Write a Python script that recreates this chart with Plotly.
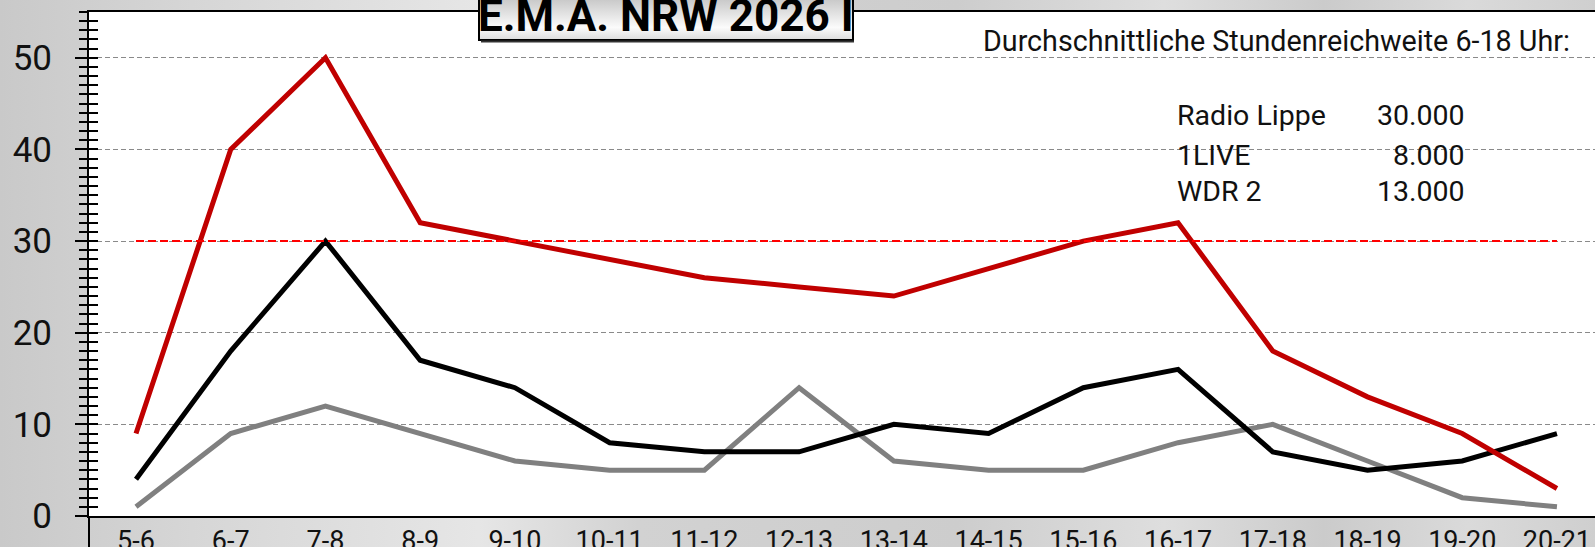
import base64
import plotly.graph_objects as go

# ---------------- data ----------------
hours = ["5-6", "6-7", "7-8", "8-9", "9-10", "10-11", "11-12", "12-13",
         "13-14", "14-15", "15-16", "16-17", "17-18", "18-19", "19-20", "20-21"]
radio_lippe = [9, 40, 50, 32, 30, 28, 26, 25, 24, 27, 30, 32, 18, 13, 9, 3]
wdr2 = [4, 18, 30, 17, 14, 8, 7, 7, 10, 9, 14, 16, 7, 5, 6, 9]
einslive = [1, 9, 12, 9, 6, 5, 5, 14, 6, 5, 5, 8, 10, 6, 2, 1]

stations = ["Radio Lippe", "1LIVE", "WDR 2"]
avg_reach = [30000, 8000, 13000]
avg_title = "Durchschnittliche Stundenreichweite 6-18 Uhr:"
chart_title = "E.M.A. NRW 2026 I"
y_ticks = [0, 10, 20, 30, 40, 50]

# ---------------- style ----------------
FONT = "Roboto, Liberation Sans, sans-serif"
W, H = 1595, 547
ML, MR, MT, MB = 89, 0, 12, 31
PW, PH = W - ML - MR, H - MT - MB


def px(xp):
    return (xp - ML) / PW


def py(yp):
    return (H - MB - yp) / PH


def svg_uri(svg):
    return "data:image/svg+xml;base64," + base64.b64encode(svg.encode()).decode()


bg_svg = (
    "<svg xmlns='http://www.w3.org/2000/svg' width='1595' height='547'>"
    "<defs><linearGradient id='g' x1='0' y1='0' x2='1' y2='0'>"
    "<stop offset='0' stop-color='#c9c9c9'/>"
    "<stop offset='0.12' stop-color='#d6d6d6'/>"
    "<stop offset='0.3' stop-color='#e6e6e6'/>"
    "<stop offset='0.4' stop-color='#d2d2d2'/>"
    "<stop offset='0.6' stop-color='#cdcdcd'/>"
    "<stop offset='0.73' stop-color='#dedede'/>"
    "<stop offset='0.83' stop-color='#cbcbcb'/>"
    "<stop offset='0.92' stop-color='#dadada'/>"
    "<stop offset='1' stop-color='#cfcfcf'/>"
    "</linearGradient></defs>"
    "<rect width='1595' height='547' fill='url(#g)'/></svg>"
)

box_svg = (
    "<svg xmlns='http://www.w3.org/2000/svg' width='374' height='50'>"
    "<defs><linearGradient id='b' x1='0' y1='0' x2='0' y2='1'>"
    "<stop offset='0' stop-color='#b8b8b8'/>"
    "<stop offset='0.75' stop-color='#fbfbfb'/>"
    "<stop offset='1' stop-color='#dcdcdc'/>"
    "</linearGradient></defs>"
    "<rect width='374' height='50' fill='url(#b)'/></svg>"
)

fig = go.Figure()

fig.add_trace(go.Scatter(x=hours, y=einslive, mode="lines", name=stations[1],
                         line=dict(color="#808080", width=5)))
fig.add_trace(go.Scatter(x=hours, y=wdr2, mode="lines", name=stations[2],
                         line=dict(color="#000000", width=5)))
fig.add_trace(go.Scatter(x=hours, y=radio_lippe, mode="lines", name=stations[0],
                         line=dict(color="#c00000", width=5)))
fig.add_trace(go.Scatter(x=[hours[0], hours[-1]], y=[avg_reach[0] / 1000] * 2,
                         mode="lines", name="Ø " + stations[0],
                         line=dict(color="#ff0000", width=2, dash="8px,4px")))
# invisible trace for the crossing tick axis
fig.add_trace(go.Scatter(x=[hours[0]], y=[0], yaxis="y2", mode="markers",
                         marker=dict(opacity=0), hoverinfo="skip", showlegend=False))

step = 94.73
x_first = 136
xr = [-(x_first - ML) / step, (W - MR - x_first) / step]

fig.update_layout(
    width=W, height=H,
    margin=dict(l=ML, r=MR, t=MT, b=MB, pad=0, autoexpand=False),
    paper_bgcolor="#d3d3d3",
    plot_bgcolor="white",
    showlegend=False,
    font=dict(family=FONT, color="#111111"),
    xaxis=dict(
        type="category", range=xr, showgrid=False, zeroline=False, automargin=False,
        showline=True, linecolor="black", linewidth=2, mirror=True,
        ticks="", tickfont=dict(size=27, family=FONT, color="#111111"),
        ticklabelstandoff=0,
    ),
    yaxis=dict(
        range=[0, 55], tickvals=y_ticks, showgrid=True, gridcolor="#8a8a8a",
        gridwidth=1, griddash="5px,3px", zeroline=False, automargin=False,
        showline=True, linecolor="black", linewidth=2,
        ticks="outside", ticklen=12, tickwidth=2, tickcolor="black",
        minor=dict(dtick=1, tick0=0, ticks="outside", ticklen=8, tickwidth=2,
                   tickcolor="black", showgrid=False),
        tickfont=dict(size=35, family=FONT, color="#111111"), ticklabelstandoff=16,
    ),
    yaxis2=dict(
        overlaying="y", side="left", anchor="x", range=[0, 55], dtick=10,
        showgrid=False, zeroline=False, showline=False, showticklabels=False,
        automargin=False,
        ticks="inside", ticklen=9, tickwidth=2, tickcolor="black",
        minor=dict(dtick=1, tick0=0, ticks="inside", ticklen=9, tickwidth=2,
                   tickcolor="black", showgrid=False),
    ),
    images=[
        dict(source=svg_uri(bg_svg), xref="paper", yref="paper",
             x=px(0), y=py(0), sizex=W / PW, sizey=H / PH,
             xanchor="left", yanchor="top", sizing="stretch", layer="below"),
        dict(source=svg_uri(box_svg), xref="paper", yref="paper",
             x=px(479), y=py(-10), sizex=374 / PW, sizey=50 / PH,
             xanchor="left", yanchor="top", sizing="stretch", layer="above"),
    ],
    shapes=[
        dict(type="rect", xref="paper", yref="paper", x0=0, x1=1, y0=0, y1=1,
             fillcolor="white", line=dict(width=0), layer="below"),
        dict(type="line", xref="paper", yref="paper", x0=0, x1=0,
             y0=0, y1=py(H), line=dict(color="black", width=2)),
        dict(type="rect", xref="paper", yref="paper",
             x0=px(479), x1=px(853), y0=py(40), y1=py(-10),
             line=dict(color="black", width=2), fillcolor="rgba(0,0,0,0)",
             layer="above"),
        dict(type="line", xref="paper", yref="paper",
             x0=px(481), x1=px(854), y0=py(41.5), y1=py(41.5),
             line=dict(color="#333333", width=2), layer="above"),
    ],
)

annotations = [
    dict(text="<b>" + chart_title + "</b>", xref="paper", yref="paper",
         x=px(666), y=py(16), xanchor="center", yanchor="middle", showarrow=False,
         font=dict(size=44, family=FONT, color="black")),
    dict(text=avg_title, xref="paper", yref="paper", x=px(1572), y=py(41),
         xanchor="right", yanchor="middle", showarrow=False,
         font=dict(size=28.7, family=FONT, color="#111111")),
]
row_y = [115, 155, 192]
for name, val, ry in zip(stations, avg_reach, row_y):
    annotations.append(dict(text=name, xref="paper", yref="paper", x=px(1175), y=py(ry),
                            xanchor="left", yanchor="middle", showarrow=False,
                            font=dict(size=28.5, family=FONT, color="#111111")))
    annotations.append(dict(text=f"{val:,}".replace(",", "."), xref="paper", yref="paper",
                            x=px(1467), y=py(ry), xanchor="right", yanchor="middle",
                            showarrow=False,
                            font=dict(size=28.5, family=FONT, color="#111111")))
fig.update_layout(annotations=annotations)

fig.write_html(
    "out.html",
    config={"displayModeBar": False},
    post_script="document.body.style.margin='0';document.body.style.overflow='hidden';",
)
